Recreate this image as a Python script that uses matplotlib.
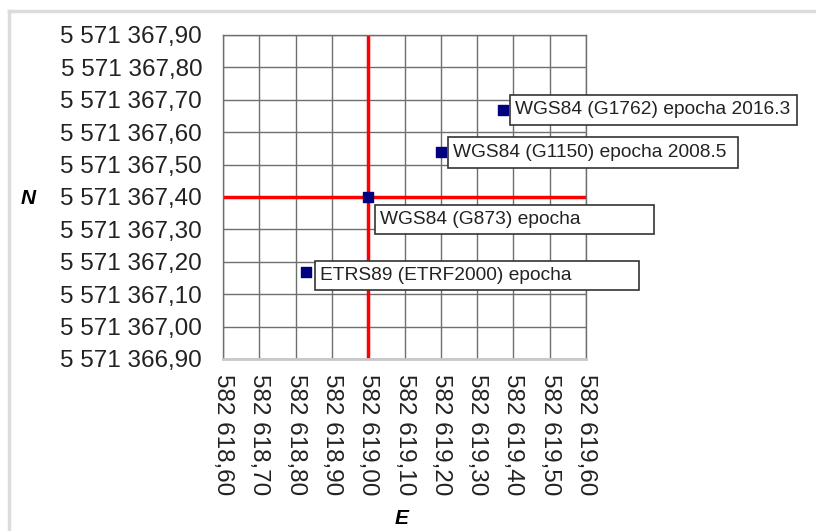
import matplotlib.pyplot as plt
from matplotlib.patches import Rectangle
from matplotlib.lines import Line2D

# coordinates (E, N) of the four solutions
labels = [
    "ETRS89 (ETRF2000) epocha",
    "WGS84 (G873) epocha",
    "WGS84 (G1150) epocha 2008.5",
    "WGS84 (G1762) epocha 2016.3",
]
east = [582618.83, 582619.00, 582619.20, 582619.37]
north = [5571367.17, 5571367.40, 5571367.54, 5571367.67]

# reference cross
ref_e = 582619.00
ref_n = 5571367.40

x_ticks = [582618.60 + 0.1 * i for i in range(11)]
y_ticks = [5571366.90 + 0.1 * i for i in range(11)]

# label boxes in pixels relative to the point: dx, dy (top, down positive), width, height
box_px = [
    (9, -11, 324, 29),
    (7, 8, 279, 29),
    (7, -15, 290, 31),
    (7, -15, 287, 30),
]


def fmt(v):
    s = f"{v:,.2f}"
    return s.replace(",", " ").replace(".", ",")


plt.rcParams["font.family"] = ["Liberation Sans", "DejaVu Sans"]

W, H = 816, 531
fig = plt.figure(figsize=(W / 100, H / 100), dpi=100)
fig.patch.set_facecolor("white")

# light frame around the figure (top and left visible)
fig.add_artist(Line2D([9 / W, 1], [1 - 11 / H, 1 - 11 / H], color="#dcdcdc", lw=2.5))
fig.add_artist(Line2D([9 / W, 9 / W], [0, 1 - 11 / H], color="#dcdcdc", lw=2.5))

ax = fig.add_axes([223 / W, 1 - 359 / H, (586 - 223) / W, (359 - 35) / H])
ax.set_xlim(x_ticks[0], x_ticks[-1])
ax.set_ylim(y_ticks[0], y_ticks[-1])
ax.set_xticks(x_ticks)
ax.set_yticks(y_ticks)
ax.set_xticklabels([fmt(v) for v in x_ticks], rotation=-90, fontsize=17.5, color="#222222")
ax.set_yticklabels([fmt(v) for v in y_ticks], fontsize=17.5, color="#222222")
ax.tick_params(length=0, pad=11)
ax.tick_params(axis="y", pad=15)
ax.grid(True, color="#6f6f6f", lw=1)
for s in ax.spines.values():
    s.set_color("#6f6f6f")
    s.set_linewidth(1)
ax.spines["bottom"].set_color("#c8c8c8")
ax.spines["bottom"].set_linewidth(2)
ax.set_axisbelow(True)

ax.axhline(ref_n, color="#ff0000", lw=2.5, zorder=2)
ax.axvline(ref_e, color="#ff0000", lw=2.5, zorder=2)

ax.scatter(east, north, marker="s", s=55, color="#000080", zorder=4)

inv = ax.transData.inverted()
for lab, e, n, (dx, dy, bw, bh) in zip(labels, east, north, box_px):
    px, py = ax.transData.transform((e, n))
    x0, ytop = px + dx, py - dy
    x1, ybot = x0 + bw, ytop - bh
    (ex0, ny0) = inv.transform((x0, ybot))
    (ex1, ny1) = inv.transform((x1, ytop))
    ax.add_patch(Rectangle((ex0, ny0), ex1 - ex0, ny1 - ny0, facecolor="white",
                           edgecolor="#333333", lw=1.2, clip_on=False, zorder=5))
    tx, ty = inv.transform((x0 + 5, ytop - bh / 2))
    ax.text(tx, ty, lab, fontsize=13.8, color="#222222", ha="left", va="center",
            zorder=6, clip_on=False)

fig.text(28 / W, 1 - 198 / H, "N", fontsize=15, fontweight="bold", fontstyle="italic",
         ha="center", va="center")
fig.text(402 / W, 1 - 519 / H, "E", fontsize=15, fontweight="bold", fontstyle="italic",
         ha="center", va="center")

fig.savefig("out.png", dpi=100)
